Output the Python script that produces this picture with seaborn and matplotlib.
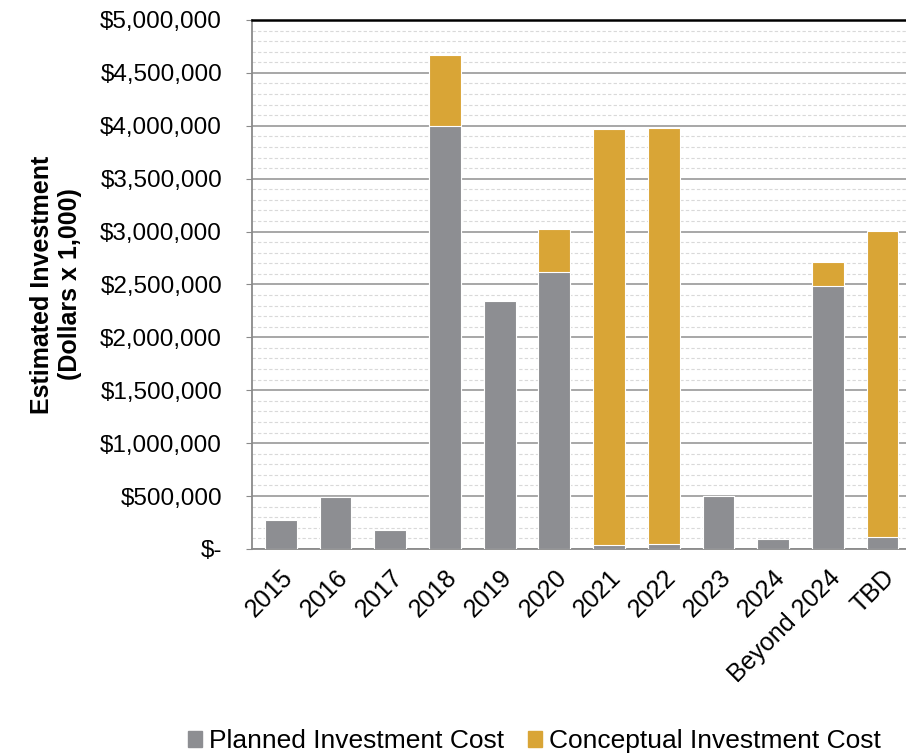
import pandas as pd
import numpy as np
import matplotlib
matplotlib.use("Agg")
import matplotlib.pyplot as plt
import seaborn as sns
from matplotlib.ticker import MultipleLocator, FuncFormatter
from matplotlib.patches import Patch

years = ["2015", "2016", "2017", "2018", "2019", "2020", "2021", "2022",
         "2023", "2024", "Beyond 2024", "TBD"]
planned = [275000, 490000, 180000, 4000000, 2345000, 2620000, 35000, 50000,
           500000, 90000, 2490000, 110000]
conceptual = [0, 0, 0, 670000, 0, 400000, 3935000, 3930000,
              0, 0, 220000, 2895000]

gray = "#8d8e92"
gold = "#d9a536"

df = pd.DataFrame({"Year": years, "Planned": planned, "Conceptual": conceptual})
df["Total"] = df["Planned"] + df["Conceptual"]

sns.set_style("white")
plt.rcParams["font.family"] = ["Liberation Sans", "DejaVu Sans"]
plt.rcParams["text.color"] = "black"
plt.rcParams["axes.labelcolor"] = "black"
plt.rcParams["xtick.labelcolor"] = "black"
plt.rcParams["ytick.labelcolor"] = "black"

fig = plt.figure(figsize=(9.06, 7.54), dpi=100)
ax = fig.add_axes([0.278, 0.272, 0.7245, 0.7015])

# stacked: total in gold first, planned in gray over it
sns.barplot(data=df, x="Year", y="Total", color=gold, width=0.58,
            saturation=1, ax=ax, zorder=3, edgecolor="white", linewidth=0.8)
sns.barplot(data=df, x="Year", y="Planned", color=gray, width=0.58,
            saturation=1, ax=ax, zorder=4, edgecolor="white", linewidth=0.8)

ax.set_ylim(0, 5000000)
ax.set_xlim(-0.53, 11.47)
ax.yaxis.set_major_locator(MultipleLocator(500000))
ax.yaxis.set_minor_locator(MultipleLocator(100000))


def money(v, pos):
    if v == 0:
        return "$-"
    return "${:,.0f}".format(v)


ax.yaxis.set_major_formatter(FuncFormatter(money))
ax.grid(axis="y", which="major", color="#a0a0a0", linewidth=1.3, zorder=0)
ax.grid(axis="y", which="minor", color="#d9d9d9", linewidth=0.8,
        linestyle=(0, (3, 2)), zorder=0)
ax.set_axisbelow(True)

ax.spines["right"].set_visible(False)
ax.spines["top"].set_color("black")
ax.spines["top"].set_linewidth(1.8)
ax.spines["left"].set_color("#8a8a8a")
ax.spines["left"].set_linewidth(1.3)
ax.spines["bottom"].set_color("#8a8a8a")
ax.spines["bottom"].set_linewidth(1.3)

ax.tick_params(axis="y", which="major", direction="out", length=4.5,
               color="#8a8a8a", labelsize=17.5, pad=17, left=True,
               labelcolor="black")
ax.tick_params(axis="y", which="minor", length=0)
ax.tick_params(axis="x", length=0, labelsize=18, pad=12, labelcolor="black")
plt.setp(ax.get_xticklabels(), rotation=45, ha="right", rotation_mode="anchor")

ax.set_xlabel("")
ax.set_ylabel("Estimated Investment\n(Dollars x 1,000)", fontsize=18,
              fontweight="bold", labelpad=13, color="black")

handles = [Patch(color=gray, label="Planned Investment Cost"),
           Patch(color=gold, label="Conceptual Investment Cost")]
fig.legend(handles=handles, loc="center", bbox_to_anchor=(0.59, 0.017),
           ncol=2, frameon=False, fontsize=19, handlelength=0.53,
           handleheight=0.53, handletextpad=0.27, columnspacing=0.9,
           borderpad=0, borderaxespad=0, labelcolor="black")

fig.savefig("out.png", dpi=100)
